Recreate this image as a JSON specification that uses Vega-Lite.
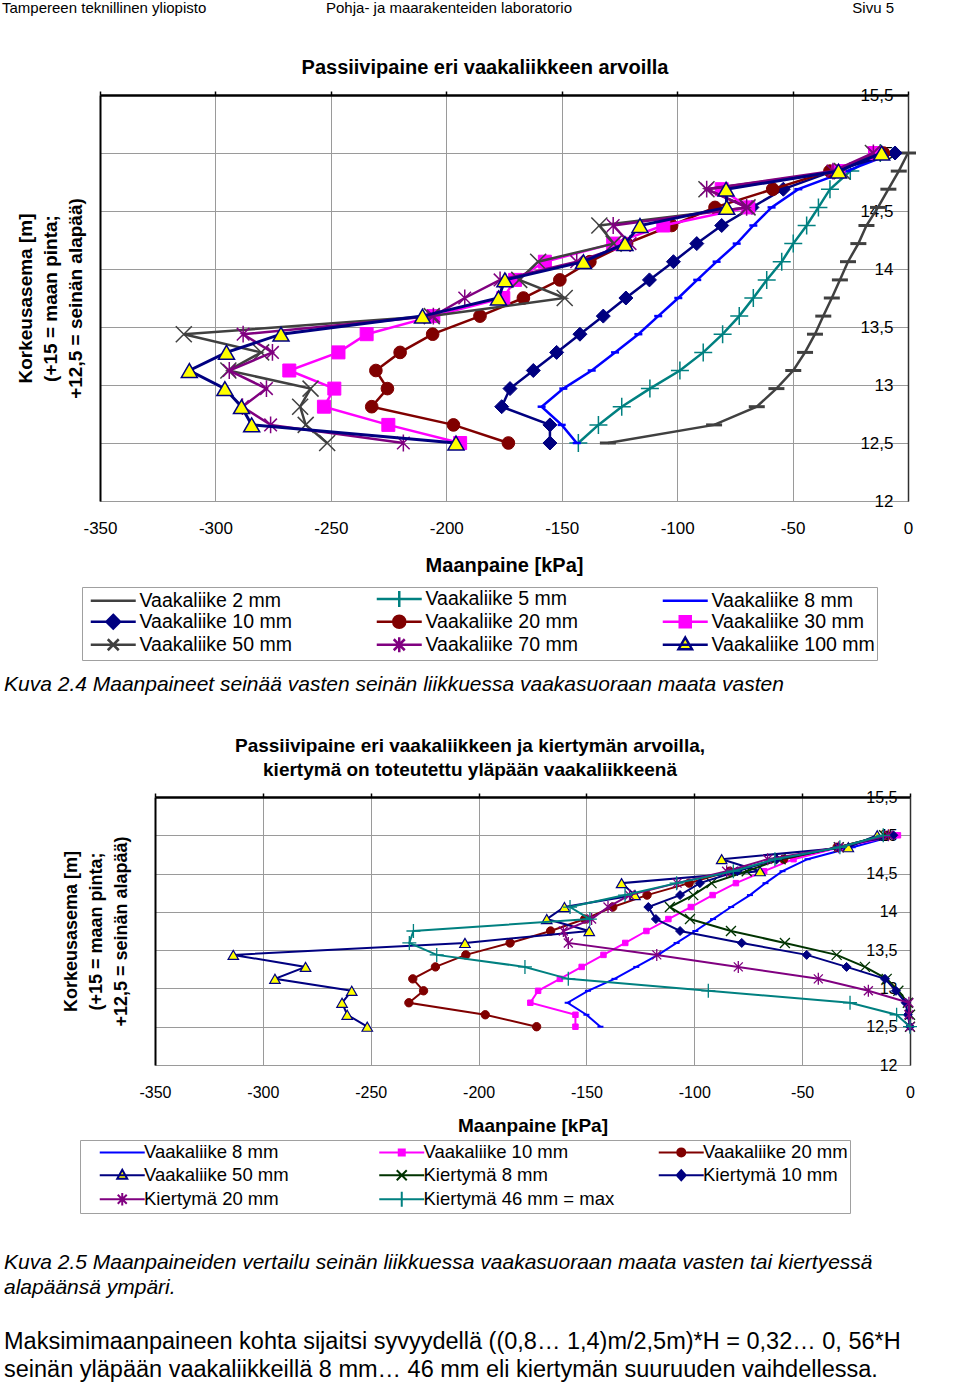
{
"$schema": "https://vega.github.io/schema/vega-lite/v6.json",
"background": "white",
"padding": 0,
"config": {
  "font": "Liberation Sans",
  "view": {"stroke": null},
  "axis": {"labelColor": "black", "titleColor": "black", "gridColor": "#9a9a9a", "gridWidth": 1, "labelOverlap": false, "labelFlush": false, "labelFont": "Liberation Sans", "titleFont": "Liberation Sans"},
  "legend": {"labelColor": "black", "labelFont": "Liberation Sans"},
  "title": {"color": "black", "font": "Liberation Sans"}
},
"datasets": {
  "v1": [
    {"s":"Vaakaliike 2 mm","z":15,"p":0},{"s":"Vaakaliike 2 mm","z":14.844,"p":-4},{"s":"Vaakaliike 2 mm","z":14.688,"p":-8.5},{"s":"Vaakaliike 2 mm","z":14.531,"p":-13},{"s":"Vaakaliike 2 mm","z":14.375,"p":-18},{"s":"Vaakaliike 2 mm","z":14.219,"p":-21.5},{"s":"Vaakaliike 2 mm","z":14.063,"p":-26},{"s":"Vaakaliike 2 mm","z":13.906,"p":-29.5},{"s":"Vaakaliike 2 mm","z":13.75,"p":-33},{"s":"Vaakaliike 2 mm","z":13.594,"p":-36.7},{"s":"Vaakaliike 2 mm","z":13.438,"p":-40.3},{"s":"Vaakaliike 2 mm","z":13.281,"p":-44.6},{"s":"Vaakaliike 2 mm","z":13.125,"p":-49.7},{"s":"Vaakaliike 2 mm","z":12.969,"p":-57},{"s":"Vaakaliike 2 mm","z":12.813,"p":-65.5},{"s":"Vaakaliike 2 mm","z":12.656,"p":-84},{"s":"Vaakaliike 2 mm","z":12.5,"p":-130},
    {"s":"Vaakaliike 5 mm","z":15,"p":-12},{"s":"Vaakaliike 5 mm","z":14.844,"p":-25},{"s":"Vaakaliike 5 mm","z":14.688,"p":-33.8},{"s":"Vaakaliike 5 mm","z":14.531,"p":-38.8},{"s":"Vaakaliike 5 mm","z":14.375,"p":-43.9},{"s":"Vaakaliike 5 mm","z":14.219,"p":-49.7},{"s":"Vaakaliike 5 mm","z":14.063,"p":-54.7},{"s":"Vaakaliike 5 mm","z":13.906,"p":-61.2},{"s":"Vaakaliike 5 mm","z":13.75,"p":-67},{"s":"Vaakaliike 5 mm","z":13.594,"p":-73.1},{"s":"Vaakaliike 5 mm","z":13.438,"p":-80.3},{"s":"Vaakaliike 5 mm","z":13.281,"p":-88.7},{"s":"Vaakaliike 5 mm","z":13.125,"p":-98.8},{"s":"Vaakaliike 5 mm","z":12.969,"p":-111.8},{"s":"Vaakaliike 5 mm","z":12.813,"p":-124},{"s":"Vaakaliike 5 mm","z":12.656,"p":-134.1},{"s":"Vaakaliike 5 mm","z":12.5,"p":-142.8},
    {"s":"Vaakaliike 8 mm","z":15,"p":-6.4},{"s":"Vaakaliike 8 mm","z":14.844,"p":-26.6},{"s":"Vaakaliike 8 mm","z":14.688,"p":-47.5},{"s":"Vaakaliike 8 mm","z":14.531,"p":-59.1},{"s":"Vaakaliike 8 mm","z":14.375,"p":-67},{"s":"Vaakaliike 8 mm","z":14.219,"p":-74.2},{"s":"Vaakaliike 8 mm","z":14.063,"p":-82.9},{"s":"Vaakaliike 8 mm","z":13.906,"p":-91.3},{"s":"Vaakaliike 8 mm","z":13.75,"p":-99.5},{"s":"Vaakaliike 8 mm","z":13.594,"p":-108.2},{"s":"Vaakaliike 8 mm","z":13.438,"p":-116.8},{"s":"Vaakaliike 8 mm","z":13.281,"p":-126.9},{"s":"Vaakaliike 8 mm","z":13.125,"p":-137},{"s":"Vaakaliike 8 mm","z":12.969,"p":-149.3},{"s":"Vaakaliike 8 mm","z":12.813,"p":-158.7},{"s":"Vaakaliike 8 mm","z":12.656,"p":-150},{"s":"Vaakaliike 8 mm","z":12.5,"p":-143.5},
    {"s":"Vaakaliike 10 mm","z":15,"p":-5.6},{"s":"Vaakaliike 10 mm","z":14.844,"p":-32.5},{"s":"Vaakaliike 10 mm","z":14.688,"p":-54},{"s":"Vaakaliike 10 mm","z":14.531,"p":-67.6},{"s":"Vaakaliike 10 mm","z":14.375,"p":-80.7},{"s":"Vaakaliike 10 mm","z":14.219,"p":-91.5},{"s":"Vaakaliike 10 mm","z":14.063,"p":-101.6},{"s":"Vaakaliike 10 mm","z":13.906,"p":-112},{"s":"Vaakaliike 10 mm","z":13.75,"p":-122.2},{"s":"Vaakaliike 10 mm","z":13.594,"p":-132},{"s":"Vaakaliike 10 mm","z":13.438,"p":-142.1},{"s":"Vaakaliike 10 mm","z":13.281,"p":-152.2},{"s":"Vaakaliike 10 mm","z":13.125,"p":-162.3},{"s":"Vaakaliike 10 mm","z":12.969,"p":-172.4},{"s":"Vaakaliike 10 mm","z":12.813,"p":-176},{"s":"Vaakaliike 10 mm","z":12.656,"p":-155.1},{"s":"Vaakaliike 10 mm","z":12.5,"p":-155.1},
    {"s":"Vaakaliike 20 mm","z":15,"p":-10.7},{"s":"Vaakaliike 20 mm","z":14.844,"p":-33.8},{"s":"Vaakaliike 20 mm","z":14.688,"p":-58.6},{"s":"Vaakaliike 20 mm","z":14.531,"p":-83.6},{"s":"Vaakaliike 20 mm","z":14.375,"p":-102.4},{"s":"Vaakaliike 20 mm","z":14.219,"p":-121.9},{"s":"Vaakaliike 20 mm","z":14.063,"p":-137.8},{"s":"Vaakaliike 20 mm","z":13.906,"p":-150.8},{"s":"Vaakaliike 20 mm","z":13.75,"p":-166.6},{"s":"Vaakaliike 20 mm","z":13.594,"p":-185.4},{"s":"Vaakaliike 20 mm","z":13.438,"p":-205.9},{"s":"Vaakaliike 20 mm","z":13.281,"p":-220},{"s":"Vaakaliike 20 mm","z":13.125,"p":-230.5},{"s":"Vaakaliike 20 mm","z":12.969,"p":-225.5},{"s":"Vaakaliike 20 mm","z":12.813,"p":-232.3},{"s":"Vaakaliike 20 mm","z":12.656,"p":-196.9},{"s":"Vaakaliike 20 mm","z":12.5,"p":-173.1},
    {"s":"Vaakaliike 30 mm","z":15,"p":-14.3},{"s":"Vaakaliike 30 mm","z":14.844,"p":-30.1},{"s":"Vaakaliike 30 mm","z":14.688,"p":-80.7},{"s":"Vaakaliike 30 mm","z":14.531,"p":-69.2},{"s":"Vaakaliike 30 mm","z":14.375,"p":-106},{"s":"Vaakaliike 30 mm","z":14.219,"p":-127.7},{"s":"Vaakaliike 30 mm","z":14.063,"p":-157.3},{"s":"Vaakaliike 30 mm","z":13.906,"p":-170.2},{"s":"Vaakaliike 30 mm","z":13.75,"p":-175.3},{"s":"Vaakaliike 30 mm","z":13.594,"p":-205.6},{"s":"Vaakaliike 30 mm","z":13.438,"p":-234.5},{"s":"Vaakaliike 30 mm","z":13.281,"p":-246.7},{"s":"Vaakaliike 30 mm","z":13.125,"p":-268},{"s":"Vaakaliike 30 mm","z":12.969,"p":-248.5},{"s":"Vaakaliike 30 mm","z":12.813,"p":-253},{"s":"Vaakaliike 30 mm","z":12.656,"p":-225.1},{"s":"Vaakaliike 30 mm","z":12.5,"p":-194},
    {"s":"Vaakaliike 50 mm","z":15,"p":-15.2},{"s":"Vaakaliike 50 mm","z":14.844,"p":-28.6},{"s":"Vaakaliike 50 mm","z":14.688,"p":-87.3},{"s":"Vaakaliike 50 mm","z":14.531,"p":-69.5},{"s":"Vaakaliike 50 mm","z":14.375,"p":-133.7},{"s":"Vaakaliike 50 mm","z":14.219,"p":-127.5},{"s":"Vaakaliike 50 mm","z":14.063,"p":-160.2},{"s":"Vaakaliike 50 mm","z":13.906,"p":-168.4},{"s":"Vaakaliike 50 mm","z":13.75,"p":-148.7},{"s":"Vaakaliike 50 mm","z":13.594,"p":-206.3},{"s":"Vaakaliike 50 mm","z":13.438,"p":-313.7},{"s":"Vaakaliike 50 mm","z":13.281,"p":-280.2},{"s":"Vaakaliike 50 mm","z":13.125,"p":-294.4},{"s":"Vaakaliike 50 mm","z":12.969,"p":-258.8},{"s":"Vaakaliike 50 mm","z":12.813,"p":-263.3},{"s":"Vaakaliike 50 mm","z":12.656,"p":-260.9},{"s":"Vaakaliike 50 mm","z":12.5,"p":-251.6},
    {"s":"Vaakaliike 70 mm","z":15,"p":-15},{"s":"Vaakaliike 70 mm","z":14.844,"p":-32.5},{"s":"Vaakaliike 70 mm","z":14.688,"p":-87.2},{"s":"Vaakaliike 70 mm","z":14.531,"p":-69.9},{"s":"Vaakaliike 70 mm","z":14.375,"p":-127.7},{"s":"Vaakaliike 70 mm","z":14.219,"p":-120.4},{"s":"Vaakaliike 70 mm","z":14.063,"p":-143.5},{"s":"Vaakaliike 70 mm","z":13.906,"p":-176.7},{"s":"Vaakaliike 70 mm","z":13.75,"p":-192},{"s":"Vaakaliike 70 mm","z":13.594,"p":-205.6},{"s":"Vaakaliike 70 mm","z":13.438,"p":-288},{"s":"Vaakaliike 70 mm","z":13.281,"p":-275.3},{"s":"Vaakaliike 70 mm","z":13.125,"p":-294},{"s":"Vaakaliike 70 mm","z":12.969,"p":-277.9},{"s":"Vaakaliike 70 mm","z":12.813,"p":-288.3},{"s":"Vaakaliike 70 mm","z":12.656,"p":-276.1},{"s":"Vaakaliike 70 mm","z":12.5,"p":-218.6},
    {"s":"Vaakaliike 100 mm","z":15,"p":-11.4},{"s":"Vaakaliike 100 mm","z":14.844,"p":-30.1},{"s":"Vaakaliike 100 mm","z":14.688,"p":-78.8},{"s":"Vaakaliike 100 mm","z":14.531,"p":-78.5},{"s":"Vaakaliike 100 mm","z":14.375,"p":-116.1},{"s":"Vaakaliike 100 mm","z":14.219,"p":-122.6},{"s":"Vaakaliike 100 mm","z":14.063,"p":-140.6},{"s":"Vaakaliike 100 mm","z":13.906,"p":-174.6},{"s":"Vaakaliike 100 mm","z":13.75,"p":-177.4},{"s":"Vaakaliike 100 mm","z":13.594,"p":-210.3},{"s":"Vaakaliike 100 mm","z":13.438,"p":-271.6},{"s":"Vaakaliike 100 mm","z":13.281,"p":-295.2},{"s":"Vaakaliike 100 mm","z":13.125,"p":-311.3},{"s":"Vaakaliike 100 mm","z":12.969,"p":-295.9},{"s":"Vaakaliike 100 mm","z":12.813,"p":-288.7},{"s":"Vaakaliike 100 mm","z":12.656,"p":-284.3},{"s":"Vaakaliike 100 mm","z":12.5,"p":-195.8}
  ],
  "k2": [
    {"s":"Kiertymä 8 mm","z":15,"p":-12},{"s":"Kiertymä 8 mm","z":14.844,"p":-33},{"s":"Kiertymä 8 mm","z":14.688,"p":-60},{"s":"Kiertymä 8 mm","z":14.531,"p":-75.7},{"s":"Kiertymä 8 mm","z":14.375,"p":-92},{"s":"Kiertymä 8 mm","z":14.219,"p":-100.5},{"s":"Kiertymä 8 mm","z":14.063,"p":-111.3},{"s":"Kiertymä 8 mm","z":13.906,"p":-102},{"s":"Kiertymä 8 mm","z":13.75,"p":-83},{"s":"Kiertymä 8 mm","z":13.594,"p":-58},{"s":"Kiertymä 8 mm","z":13.438,"p":-34},{"s":"Kiertymä 8 mm","z":13.281,"p":-20.9},{"s":"Kiertymä 8 mm","z":13.125,"p":-10.8},{"s":"Kiertymä 8 mm","z":12.969,"p":-5.4},{"s":"Kiertymä 8 mm","z":12.813,"p":-1},{"s":"Kiertymä 8 mm","z":12.656,"p":0},{"s":"Kiertymä 8 mm","z":12.5,"p":0},
    {"s":"Kiertymä 10 mm","z":15,"p":-7.7},{"s":"Kiertymä 10 mm","z":14.844,"p":-33.2},{"s":"Kiertymä 10 mm","z":14.688,"p":-61.8},{"s":"Kiertymä 10 mm","z":14.531,"p":-80},{"s":"Kiertymä 10 mm","z":14.375,"p":-97.4},{"s":"Kiertymä 10 mm","z":14.219,"p":-106.6},{"s":"Kiertymä 10 mm","z":14.063,"p":-121.3},{"s":"Kiertymä 10 mm","z":13.906,"p":-117.8},{"s":"Kiertymä 10 mm","z":13.75,"p":-106.6},{"s":"Kiertymä 10 mm","z":13.594,"p":-78},{"s":"Kiertymä 10 mm","z":13.438,"p":-47.9},{"s":"Kiertymä 10 mm","z":13.281,"p":-29.4},{"s":"Kiertymä 10 mm","z":13.125,"p":-11.6},{"s":"Kiertymä 10 mm","z":12.969,"p":-6.5},{"s":"Kiertymä 10 mm","z":12.813,"p":-2},{"s":"Kiertymä 10 mm","z":12.656,"p":-1},{"s":"Kiertymä 10 mm","z":12.5,"p":0},
    {"s":"Kiertymä 20 mm","z":15,"p":-10},{"s":"Kiertymä 20 mm","z":14.844,"p":-33},{"s":"Kiertymä 20 mm","z":14.688,"p":-66},{"s":"Kiertymä 20 mm","z":14.531,"p":-85},{"s":"Kiertymä 20 mm","z":14.375,"p":-108},{"s":"Kiertymä 20 mm","z":14.219,"p":-130},{"s":"Kiertymä 20 mm","z":14.063,"p":-140},{"s":"Kiertymä 20 mm","z":13.906,"p":-147.6},{"s":"Kiertymä 20 mm","z":13.75,"p":-160.7},{"s":"Kiertymä 20 mm","z":13.594,"p":-158.4},{"s":"Kiertymä 20 mm","z":13.438,"p":-117.4},{"s":"Kiertymä 20 mm","z":13.281,"p":-79.6},{"s":"Kiertymä 20 mm","z":13.125,"p":-42.5},{"s":"Kiertymä 20 mm","z":12.969,"p":-19.3},{"s":"Kiertymä 20 mm","z":12.813,"p":-0.5},{"s":"Kiertymä 20 mm","z":12.656,"p":-0.5},{"s":"Kiertymä 20 mm","z":12.5,"p":0},
    {"s":"Kiertymä 46 mm = max","z":15,"p":-12.4},{"s":"Kiertymä 46 mm = max","z":14.844,"p":-32.5},{"s":"Kiertymä 46 mm = max","z":14.688,"p":-62.6},{"s":"Kiertymä 46 mm = max","z":14.531,"p":-81.9},{"s":"Kiertymä 46 mm = max","z":14.375,"p":-108.2},{"s":"Kiertymä 46 mm = max","z":14.219,"p":-132.1},{"s":"Kiertymä 46 mm = max","z":14.063,"p":-157.6},{"s":"Kiertymä 46 mm = max","z":13.906,"p":-148.4},{"s":"Kiertymä 46 mm = max","z":13.75,"p":-230.2},{"s":"Kiertymä 46 mm = max","z":13.594,"p":-232.1},{"s":"Kiertymä 46 mm = max","z":13.438,"p":-219.4},{"s":"Kiertymä 46 mm = max","z":13.281,"p":-178.5},{"s":"Kiertymä 46 mm = max","z":13.125,"p":-158.4},{"s":"Kiertymä 46 mm = max","z":12.969,"p":-93.5},{"s":"Kiertymä 46 mm = max","z":12.813,"p":-27.8},{"s":"Kiertymä 46 mm = max","z":12.656,"p":-6.2},{"s":"Kiertymä 46 mm = max","z":12.5,"p":0}
  ]
},
"concat": [
  {"width": 100, "height": 95, "data": {"values": []}, "mark": "point",
   "title": {"text": "Tampereen teknillinen yliopisto", "anchor": "start", "frame": "group", "orient": "top", "offset": -28, "baseline": "alphabetic", "fontSize": 15, "fontWeight": "normal", "dx": 2}},
  {"width": 810, "height": 95, "data": {"values": []}, "mark": "point",
   "title": {"text": "Pohja- ja maarakenteiden laboratorio", "anchor": "middle", "frame": "group", "orient": "top", "offset": -28, "baseline": "alphabetic", "fontSize": 15, "fontWeight": "normal", "dx": -56}},
  {"width": 1, "height": 95, "data": {"values": []}, "mark": "point",
   "title": {"text": "Sivu 5", "anchor": "end", "frame": "group", "orient": "top", "offset": -28, "baseline": "alphabetic", "fontSize": 15, "fontWeight": "normal", "dx": -17}},

  {"width": 100, "height": 406, "data": {"values": []}, "mark": "point"},
  {
    "width": 808, "height": 406,
    "view": {"stroke": "#8c8c8c", "strokeWidth": 1},
    "title": {"text": "Passiivipaine eri vaakaliikkeen arvoilla", "fontSize": 20, "fontWeight": "bold", "anchor": "middle", "frame": "group", "dx": -19, "offset": -8, "baseline": "alphabetic"},
    "layer": [
      {
        "data": {"name": "v1"},
        "transform": [{"filter": "false"}],
        "mark": {"type": "point", "filled": true, "opacity": 1},
        "encoding": {
          "x": {"field": "p", "type": "quantitative", "scale": {"domain": [-350, 0], "nice": false, "zero": false},
                "axis": {"orient": "bottom", "values": [-350,-300,-250,-200,-150,-100,-50,0], "labelExpr": "toString(datum.value)", "labelFontSize": 17, "labelPadding": 19, "ticks": false, "domain": false, "grid": true, "title": "Maanpaine [kPa]", "titleFontSize": 20, "titleFontWeight": "bold", "titleY": 64, "titleBaseline": "middle"}},
          "y": {"field": "z", "type": "quantitative", "scale": {"domain": [12, 15.5], "nice": false, "zero": false},
                "axis": {"orient": "left", "values": [12,12.5,13,13.5,14,14.5,15,15.5], "labels": false, "ticks": false, "domain": true, "domainColor": "black", "domainWidth": 2, "grid": true, "title": ["Korkeusasema [m]", "(+15 = maan pinta;", "+12,5 = seinän alapää)"], "titleFontSize": 19, "titleFontWeight": "bold", "titleAngle": -90, "titleBaseline": "top", "titleAlign": "center", "titleX": -84, "titleY": 203, "titleLineHeight": 25}},
          "shape": {"field": "s", "type": "nominal",
            "scale": {"domain": ["Vaakaliike 2 mm","Vaakaliike 5 mm","Vaakaliike 8 mm","Vaakaliike 10 mm","Vaakaliike 20 mm","Vaakaliike 30 mm","Vaakaliike 50 mm","Vaakaliike 70 mm","Vaakaliike 100 mm"],
                      "range": ["M-0.6,0L8.4,0", "M-0.6,0L8.4,0M3.9,-1.6L3.9,1.6", "M-0.6,0L8.4,0", "M-0.6,0L8.4,0M3.9,-1.35L5.25,0L3.9,1.35L2.55,0Z", "M-0.6,0L8.4,0M5.1,0A1.2,1.2,0,1,1,2.7,0A1.2,1.2,0,1,1,5.1,0Z", "M-0.6,0L8.4,0M2.8,-1.1L5,-1.1L5,1.1L2.8,1.1Z", "M-0.6,0L8.4,0M2.8,-1.1L5,1.1M2.8,1.1L5,-1.1", "M-0.6,0L8.4,0M2.8,-1.1L5,1.1M2.8,1.1L5,-1.1M3.9,-1.5L3.9,1.5", "M-0.6,0L8.4,0M3.9,-1.45L5.25,0.9L2.55,0.9Z"]},
            "legend": {"orient": "none", "legendX": -18, "legendY": 492, "direction": "horizontal", "columns": 3, "title": null, "symbolSize": 100, "symbolStrokeWidth": 2.5, "labelFontSize": 19.5, "labelLimit": 300, "labelOffset": 36, "columnPadding": 67, "rowPadding": -4, "padding": 2, "strokeColor": "#a0a0a0", "fillColor": "white", "gridAlign": "all", "symbolOpacity": 1}},
          "fill": {"field": "s", "type": "nominal",
            "scale": {"domain": ["Vaakaliike 2 mm","Vaakaliike 5 mm","Vaakaliike 8 mm","Vaakaliike 10 mm","Vaakaliike 20 mm","Vaakaliike 30 mm","Vaakaliike 50 mm","Vaakaliike 70 mm","Vaakaliike 100 mm"],
                      "range": ["#404040","#008080","#0000ff","#000080","#800000","#ff00ff","#404040","#800080","#ffff00"]}},
          "stroke": {"field": "s", "type": "nominal",
            "scale": {"domain": ["Vaakaliike 2 mm","Vaakaliike 5 mm","Vaakaliike 8 mm","Vaakaliike 10 mm","Vaakaliike 20 mm","Vaakaliike 30 mm","Vaakaliike 50 mm","Vaakaliike 70 mm","Vaakaliike 100 mm"],
                      "range": ["#404040","#008080","#0000ff","#000080","#800000","#ff00ff","#404040","#800080","#000080"]}}
        }
      },
      {
        "data": {"name": "v1"}, "transform": [{"filter": "datum.s == 'Vaakaliike 2 mm'"}],
        "mark": {"type": "line", "color": "#404040", "strokeWidth": 2.5, "point": {"shape": "M-1,0L1,0", "size": 256, "filled": true, "fill": "#404040", "stroke": "#404040", "strokeWidth": 3, "opacity": 1}},
        "encoding": {
          "x": {"field": "p", "type": "quantitative", "scale": {"domain": [-350, 0], "nice": false, "zero": false},
                "axis": {"orient": "top", "values": [-350,-300,-250,-200,-150,-100,-50,0], "labels": false, "ticks": true, "tickSize": 4, "tickColor": "black", "tickWidth": 1.5, "domain": true, "domainColor": "black", "domainWidth": 2.5, "grid": false, "title": null}},
          "y": {"field": "z", "type": "quantitative", "scale": {"domain": [12, 15.5], "nice": false, "zero": false},
                "axis": {"orient": "right", "values": [12,12.5,13,13.5,14,14.5,15,15.5], "labelExpr": "replace(toString(datum.value), '.', ',')", "labelAlign": "right", "labelBaseline": "middle", "labelPadding": -15, "labelFontSize": 17, "ticks": false, "domain": true, "domainColor": "#303030", "domainWidth": 1.5, "grid": false, "title": null}},
          "order": {"field": "z", "type": "quantitative"}
        }
      },
      {
        "data": {"name": "v1"}, "transform": [{"filter": "datum.s == 'Vaakaliike 5 mm'"}],
        "mark": {"type": "line", "color": "#008080", "strokeWidth": 2.5, "point": {"shape": "M-1,0L1,0M0,-1L0,1", "size": 324, "filled": true, "fill": "#008080", "stroke": "#008080", "strokeWidth": 1.5, "opacity": 1}},
        "encoding": {"x": {"field": "p", "type": "quantitative", "scale": {"domain": [-350, 0], "nice": false, "zero": false}, "axis": null}, "y": {"field": "z", "type": "quantitative", "scale": {"domain": [12, 15.5], "nice": false, "zero": false}, "axis": null}, "order": {"field": "z", "type": "quantitative"}}
      },
      {
        "data": {"name": "v1"}, "transform": [{"filter": "datum.s == 'Vaakaliike 8 mm'"}],
        "mark": {"type": "line", "color": "#0000ff", "strokeWidth": 2.5, "point": {"shape": "M-1,0L1,0", "size": 64, "filled": true, "fill": "#0000ff", "stroke": "#0000ff", "strokeWidth": 2.5, "opacity": 1}},
        "encoding": {"x": {"field": "p", "type": "quantitative", "scale": {"domain": [-350, 0], "nice": false, "zero": false}, "axis": null}, "y": {"field": "z", "type": "quantitative", "scale": {"domain": [12, 15.5], "nice": false, "zero": false}, "axis": null}, "order": {"field": "z", "type": "quantitative"}}
      },
      {
        "data": {"name": "v1"}, "transform": [{"filter": "datum.s == 'Vaakaliike 10 mm'"}],
        "mark": {"type": "line", "color": "#000080", "strokeWidth": 2.5, "point": {"shape": "diamond", "size": 196, "filled": true, "fill": "#000080", "stroke": "#000080", "strokeWidth": 1, "opacity": 1}},
        "encoding": {"x": {"field": "p", "type": "quantitative", "scale": {"domain": [-350, 0], "nice": false, "zero": false}, "axis": null}, "y": {"field": "z", "type": "quantitative", "scale": {"domain": [12, 15.5], "nice": false, "zero": false}, "axis": null}, "order": {"field": "z", "type": "quantitative"}}
      },
      {
        "data": {"name": "v1"}, "transform": [{"filter": "datum.s == 'Vaakaliike 20 mm'"}],
        "mark": {"type": "line", "color": "#800000", "strokeWidth": 2.5, "point": {"shape": "circle", "size": 160, "filled": true, "fill": "#800000", "stroke": "#800000", "strokeWidth": 1, "opacity": 1}},
        "encoding": {"x": {"field": "p", "type": "quantitative", "scale": {"domain": [-350, 0], "nice": false, "zero": false}, "axis": null}, "y": {"field": "z", "type": "quantitative", "scale": {"domain": [12, 15.5], "nice": false, "zero": false}, "axis": null}, "order": {"field": "z", "type": "quantitative"}}
      },
      {
        "data": {"name": "v1"}, "transform": [{"filter": "datum.s == 'Vaakaliike 30 mm'"}],
        "mark": {"type": "line", "color": "#ff00ff", "strokeWidth": 2.5, "point": {"shape": "square", "size": 169, "filled": true, "fill": "#ff00ff", "stroke": "#ff00ff", "strokeWidth": 1, "opacity": 1}},
        "encoding": {"x": {"field": "p", "type": "quantitative", "scale": {"domain": [-350, 0], "nice": false, "zero": false}, "axis": null}, "y": {"field": "z", "type": "quantitative", "scale": {"domain": [12, 15.5], "nice": false, "zero": false}, "axis": null}, "order": {"field": "z", "type": "quantitative"}}
      },
      {
        "data": {"name": "v1"}, "transform": [{"filter": "datum.s == 'Vaakaliike 50 mm'"}],
        "mark": {"type": "line", "color": "#404040", "strokeWidth": 2.5, "point": {"shape": "M-1,-1L1,1M-1,1L1,-1", "size": 256, "filled": true, "fill": "#404040", "stroke": "#404040", "strokeWidth": 1.5, "opacity": 1}},
        "encoding": {"x": {"field": "p", "type": "quantitative", "scale": {"domain": [-350, 0], "nice": false, "zero": false}, "axis": null}, "y": {"field": "z", "type": "quantitative", "scale": {"domain": [12, 15.5], "nice": false, "zero": false}, "axis": null}, "order": {"field": "z", "type": "quantitative"}}
      },
      {
        "data": {"name": "v1"}, "transform": [{"filter": "datum.s == 'Vaakaliike 70 mm'"}],
        "mark": {"type": "line", "color": "#800080", "strokeWidth": 2.5, "point": {"shape": "M-0.9,-0.9L0.9,0.9M-0.9,0.9L0.9,-0.9M0,-1.2L0,1.2", "size": 196, "filled": true, "fill": "#800080", "stroke": "#800080", "strokeWidth": 1.5, "opacity": 1}},
        "encoding": {"x": {"field": "p", "type": "quantitative", "scale": {"domain": [-350, 0], "nice": false, "zero": false}, "axis": null}, "y": {"field": "z", "type": "quantitative", "scale": {"domain": [12, 15.5], "nice": false, "zero": false}, "axis": null}, "order": {"field": "z", "type": "quantitative"}}
      },
      {
        "data": {"name": "v1"}, "transform": [{"filter": "datum.s == 'Vaakaliike 100 mm'"}],
        "mark": {"type": "line", "color": "#000080", "strokeWidth": 3, "point": {"shape": "triangle-up", "size": 256, "filled": true, "fill": "#ffff00", "stroke": "#000080", "strokeWidth": 1.5, "opacity": 1}},
        "encoding": {"x": {"field": "p", "type": "quantitative", "scale": {"domain": [-350, 0], "nice": false, "zero": false}, "axis": null}, "y": {"field": "z", "type": "quantitative", "scale": {"domain": [12, 15.5], "nice": false, "zero": false}, "axis": null}, "order": {"field": "z", "type": "quantitative"}}
      }
    ]
  },
  {"width": 1, "height": 406, "data": {"values": []}, "mark": "point"},

  {"width": 100, "height": 296, "data": {"values": []}, "mark": "point",
   "title": {"text": "Kuva 2.4 Maanpaineet seinää vasten seinän liikkuessa vaakasuoraan maata vasten", "anchor": "start", "frame": "group", "orient": "top", "offset": -211, "baseline": "alphabetic", "fontSize": 21, "fontStyle": "italic", "fontWeight": "normal", "dx": 4}},
  {"width": 1, "height": 296, "data": {"values": []}, "mark": "point"},
  {"width": 1, "height": 296, "data": {"values": []}, "mark": "point"},

  {"width": 100, "height": 268, "data": {"values": []}, "mark": "point"},
  {
    "width": 810, "height": 268,
    "view": {"stroke": null},
    "title": {"text": ["Passiivipaine eri vaakaliikkeen ja kiertymän arvoilla,", "kiertymä on toteutettu yläpään vaakaliikkeenä"], "fontSize": 19, "fontWeight": "bold", "anchor": "middle", "frame": "group", "dx": -35, "offset": -6, "lineHeight": 24, "baseline": "alphabetic"},
    "layer": [
      {
        "data": {"name": "v1"},
        "transform": [{"filter": "false"}],
        "mark": {"type": "point", "filled": true, "opacity": 1},
        "encoding": {
          "x": {"field": "p", "type": "quantitative", "scale": {"domain": [-350, 0], "range": [55, 810], "nice": false, "zero": false},
                "axis": {"orient": "bottom", "values": [-350,-300,-250,-200,-150,-100,-50,0], "labelExpr": "toString(datum.value)", "labelFontSize": 16, "labelPadding": 19, "ticks": false, "domain": false, "grid": true, "title": "Maanpaine [kPa]", "titleFontSize": 19, "titleFontWeight": "bold", "titleY": 60, "titleBaseline": "middle"}},
          "y": {"field": "z", "type": "quantitative", "scale": {"domain": [12, 15.5], "nice": false, "zero": false},
                "axis": {"orient": "left", "offset": -55, "values": [12,12.5,13,13.5,14,14.5,15,15.5], "labels": false, "ticks": false, "domain": true, "domainColor": "black", "domainWidth": 2, "grid": true, "title": ["Korkeusasema [m]", "(+15 = maan pinta;", "+12,5 = seinän alapää)"], "titleFontSize": 18, "titleFontWeight": "bold", "titleAngle": -90, "titleBaseline": "top", "titleAlign": "center", "titleX": -93, "titleY": 134, "titleLineHeight": 25}},
          "shape": {"field": "s", "type": "nominal",
            "scale": {"domain": ["Vaakaliike 8 mm","Vaakaliike 10 mm","Vaakaliike 20 mm","Vaakaliike 50 mm","Kiertymä 8 mm","Kiertymä 10 mm","Kiertymä 20 mm","Kiertymä 46 mm = max"],
                      "range": ["M1.7,0L10.7,0", "M1.7,0L10.7,0M5.6,-0.6L6.8,-0.6L6.8,0.6L5.6,0.6Z", "M1.7,0L10.7,0M7,0A0.8,0.8,0,1,1,5.4,0A0.8,0.8,0,1,1,7,0Z", "M1.7,0L10.7,0M6.2,-1.1L7.2,0.7L5.2,0.7Z", "M1.7,0L10.7,0M5.2,-1L7.2,1M5.2,1L7.2,-1", "M1.7,0L10.7,0M6.2,-1L7.1,0L6.2,1L5.3,0Z", "M1.7,0L10.7,0M5.3,-0.9L7.1,0.9M5.3,0.9L7.1,-0.9M6.2,-1.25L6.2,1.25", "M1.7,0L10.7,0M6.2,-1.5L6.2,1.5"]},
            "legend": {"orient": "none", "legendX": -20, "legendY": 343, "direction": "horizontal", "columns": 3, "title": null, "symbolSize": 100, "symbolStrokeWidth": 2, "labelFontSize": 18.5, "labelLimit": 300, "labelOffset": 43.5, "columnPadding": 26.5, "rowPadding": 0, "padding": 2, "strokeColor": "#a0a0a0", "fillColor": "white", "gridAlign": "all", "symbolOpacity": 1}},
          "fill": {"field": "s", "type": "nominal",
            "scale": {"domain": ["Vaakaliike 8 mm","Vaakaliike 10 mm","Vaakaliike 20 mm","Vaakaliike 50 mm","Kiertymä 8 mm","Kiertymä 10 mm","Kiertymä 20 mm","Kiertymä 46 mm = max"],
                      "range": ["#0000ff","#ff00ff","#800000","#ffff00","#003300","#000080","#800080","#008080"]}},
          "stroke": {"field": "s", "type": "nominal",
            "scale": {"domain": ["Vaakaliike 8 mm","Vaakaliike 10 mm","Vaakaliike 20 mm","Vaakaliike 50 mm","Kiertymä 8 mm","Kiertymä 10 mm","Kiertymä 20 mm","Kiertymä 46 mm = max"],
                      "range": ["#0000ff","#ff00ff","#800000","#000080","#003300","#000080","#800080","#008080"]}}
        }
      },
      {
        "data": {"name": "v1"}, "transform": [{"filter": "datum.s == 'Vaakaliike 8 mm'"}],
        "mark": {"type": "line", "color": "#0000ff", "strokeWidth": 2, "point": {"shape": "M-1,0L1,0", "size": 36, "filled": true, "fill": "#0000ff", "stroke": "#0000ff", "strokeWidth": 2, "opacity": 1}},
        "encoding": {
          "x": {"field": "p", "type": "quantitative", "scale": {"domain": [-350, 0], "range": [55, 810], "nice": false, "zero": false},
                "axis": {"orient": "top", "values": [-350,-300,-250,-200,-150,-100,-50,0], "labels": false, "ticks": true, "tickSize": 4, "tickColor": "black", "tickWidth": 1.5, "domain": true, "domainColor": "black", "domainWidth": 2.5, "grid": false, "title": null}},
          "y": {"field": "z", "type": "quantitative", "scale": {"domain": [12, 15.5], "nice": false, "zero": false},
                "axis": {"orient": "right", "values": [12,12.5,13,13.5,14,14.5,15,15.5], "labelExpr": "replace(toString(datum.value), '.', ',')", "labelAlign": "right", "labelBaseline": "middle", "labelPadding": -13, "labelFontSize": 16, "ticks": false, "domain": true, "domainColor": "#303030", "domainWidth": 1.5, "grid": false, "title": null}},
          "order": {"field": "z", "type": "quantitative"}
        }
      },
      {
        "data": {"name": "v1"}, "transform": [{"filter": "datum.s == 'Vaakaliike 10 mm'"}],
        "mark": {"type": "line", "color": "#ff00ff", "strokeWidth": 2, "point": {"shape": "square", "size": 30, "filled": true, "fill": "#ff00ff", "stroke": "#ff00ff", "strokeWidth": 1, "opacity": 1}},
        "encoding": {"x": {"field": "p", "type": "quantitative", "scale": {"domain": [-350, 0], "range": [55, 810], "nice": false, "zero": false}, "axis": null}, "y": {"field": "z", "type": "quantitative", "scale": {"domain": [12, 15.5], "nice": false, "zero": false}, "axis": null}, "order": {"field": "z", "type": "quantitative"}}
      },
      {
        "data": {"name": "v1"}, "transform": [{"filter": "datum.s == 'Vaakaliike 20 mm'"}],
        "mark": {"type": "line", "color": "#800000", "strokeWidth": 2, "point": {"shape": "circle", "size": 70, "filled": true, "fill": "#800000", "stroke": "#800000", "strokeWidth": 1, "opacity": 1}},
        "encoding": {"x": {"field": "p", "type": "quantitative", "scale": {"domain": [-350, 0], "range": [55, 810], "nice": false, "zero": false}, "axis": null}, "y": {"field": "z", "type": "quantitative", "scale": {"domain": [12, 15.5], "nice": false, "zero": false}, "axis": null}, "order": {"field": "z", "type": "quantitative"}}
      },
      {
        "data": {"name": "v1"}, "transform": [{"filter": "datum.s == 'Vaakaliike 50 mm'"}],
        "mark": {"type": "line", "color": "#000080", "strokeWidth": 2, "point": {"shape": "triangle-up", "size": 110, "filled": true, "fill": "#ffff00", "stroke": "#000080", "strokeWidth": 1.2, "opacity": 1}},
        "encoding": {"x": {"field": "p", "type": "quantitative", "scale": {"domain": [-350, 0], "range": [55, 810], "nice": false, "zero": false}, "axis": null}, "y": {"field": "z", "type": "quantitative", "scale": {"domain": [12, 15.5], "nice": false, "zero": false}, "axis": null}, "order": {"field": "z", "type": "quantitative"}}
      },
      {
        "data": {"name": "k2"}, "transform": [{"filter": "datum.s == 'Kiertymä 8 mm'"}],
        "mark": {"type": "line", "color": "#003300", "strokeWidth": 2, "point": {"shape": "M-1,-1L1,1M-1,1L1,-1", "size": 100, "filled": true, "fill": "#003300", "stroke": "#003300", "strokeWidth": 1.3, "opacity": 1}},
        "encoding": {"x": {"field": "p", "type": "quantitative", "scale": {"domain": [-350, 0], "range": [55, 810], "nice": false, "zero": false}, "axis": null}, "y": {"field": "z", "type": "quantitative", "scale": {"domain": [12, 15.5], "nice": false, "zero": false}, "axis": null}, "order": {"field": "z", "type": "quantitative"}}
      },
      {
        "data": {"name": "k2"}, "transform": [{"filter": "datum.s == 'Kiertymä 10 mm'"}],
        "mark": {"type": "line", "color": "#000080", "strokeWidth": 2, "point": {"shape": "diamond", "size": 81, "filled": true, "fill": "#000080", "stroke": "#000080", "strokeWidth": 1, "opacity": 1}},
        "encoding": {"x": {"field": "p", "type": "quantitative", "scale": {"domain": [-350, 0], "range": [55, 810], "nice": false, "zero": false}, "axis": null}, "y": {"field": "z", "type": "quantitative", "scale": {"domain": [12, 15.5], "nice": false, "zero": false}, "axis": null}, "order": {"field": "z", "type": "quantitative"}}
      },
      {
        "data": {"name": "k2"}, "transform": [{"filter": "datum.s == 'Kiertymä 20 mm'"}],
        "mark": {"type": "line", "color": "#800080", "strokeWidth": 2, "point": {"shape": "M-0.9,-0.9L0.9,0.9M-0.9,0.9L0.9,-0.9M0,-1.2L0,1.2", "size": 100, "filled": true, "fill": "#800080", "stroke": "#800080", "strokeWidth": 1.3, "opacity": 1}},
        "encoding": {"x": {"field": "p", "type": "quantitative", "scale": {"domain": [-350, 0], "range": [55, 810], "nice": false, "zero": false}, "axis": null}, "y": {"field": "z", "type": "quantitative", "scale": {"domain": [12, 15.5], "nice": false, "zero": false}, "axis": null}, "order": {"field": "z", "type": "quantitative"}}
      },
      {
        "data": {"name": "k2"}, "transform": [{"filter": "datum.s == 'Kiertymä 46 mm = max'"}],
        "mark": {"type": "line", "color": "#008080", "strokeWidth": 2, "point": {"shape": "M-1,0L1,0M0,-1L0,1", "size": 196, "filled": true, "fill": "#008080", "stroke": "#008080", "strokeWidth": 1.3, "opacity": 1}},
        "encoding": {"x": {"field": "p", "type": "quantitative", "scale": {"domain": [-350, 0], "range": [55, 810], "nice": false, "zero": false}, "axis": null}, "y": {"field": "z", "type": "quantitative", "scale": {"domain": [12, 15.5], "nice": false, "zero": false}, "axis": null}, "order": {"field": "z", "type": "quantitative"}}
      }
    ]
  },
  {"width": 1, "height": 268, "data": {"values": []}, "mark": "point"},

  {"width": 100, "height": 250, "data": {"values": []}, "mark": "point",
   "title": {"text": ["Kuva 2.5 Maanpaineiden vertailu seinän liikkuessa vaakasuoraan maata vasten tai kiertyessä", "alapäänsä ympäri."], "anchor": "start", "frame": "group", "orient": "top", "offset": -250, "baseline": "alphabetic", "fontSize": 21, "lineHeight": 25, "fontStyle": "italic", "fontWeight": "normal", "dx": 4}},
  {"width": 1, "height": 250, "data": {"values": []}, "mark": "point"},
  {"width": 1, "height": 250, "data": {"values": []}, "mark": "point"},

  {"width": 100, "height": 69, "data": {"values": []}, "mark": "point",
   "title": {"text": ["Maksimimaanpaineen kohta sijaitsi syvyydellä ((0,8… 1,4)m/2,5m)*H = 0,32… 0, 56*H", "seinän yläpään vaakaliikkeillä 8 mm… 46 mm eli kiertymän suuruuden vaihdellessa."], "anchor": "start", "frame": "group", "orient": "top", "offset": -85, "baseline": "alphabetic", "fontSize": 23.5, "lineHeight": 28, "fontWeight": "normal", "dx": 4}},
  {"width": 1, "height": 69, "data": {"values": []}, "mark": "point"},
  {"width": 1, "height": 69, "data": {"values": []}, "mark": "point"}
],
"columns": 3,
"align": "none",
"bounds": "flush",
"spacing": 0,
"resolve": {"scale": {"shape": "independent", "fill": "independent", "stroke": "independent"}, "legend": {"shape": "independent", "fill": "independent", "stroke": "independent"}}
}
